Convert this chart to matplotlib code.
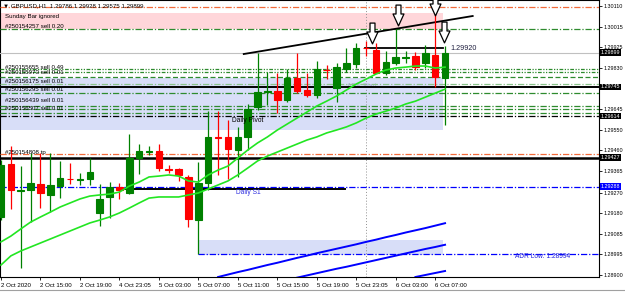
import matplotlib
matplotlib.use("Agg")
from matplotlib import pyplot as plt
from matplotlib.path import Path
from matplotlib.patches import Rectangle
import matplotlib.transforms as mtransforms
import numpy as np

plt.rcParams['font.family'] = ['Liberation Sans', 'DejaVu Sans']

# hourly candles, GBPUSD H1 (2 Oct 11:00 .. 6 Oct 08:00)
opens = [1.29160, 1.29398, 1.29277, 1.29281, 1.29308, 1.29259, 1.29299, 1.29333, 1.29328, 1.29331,
         1.29178, 1.29250, 1.29295, 1.29268, 1.29425, 1.29454, 1.29457, 1.29376, 1.29376, 1.29340,
         1.29146, 1.29313, 1.29520, 1.29520, 1.29461, 1.29520, 1.29654, 1.29724, 1.29726, 1.29686,
         1.29785, 1.29731, 1.29708, 1.29823, 1.29740, 1.29825, 1.29848, 1.29920, 1.29911, 1.29807,
         1.29852, 1.29877, 1.29884, 1.29852, 1.29888, 1.29786]
highs = [1.29416, 1.29479, 1.29389, 1.29448, 1.29448, 1.29448, 1.29412, 1.29403, 1.29358, 1.29425,
         1.29308, 1.29317, 1.29313, 1.29533, 1.29488, 1.29479, 1.29488, 1.29394, 1.29380, 1.29349,
         1.29407, 1.29636, 1.29636, 1.29596, 1.29565, 1.29668, 1.29897, 1.29812, 1.29807, 1.29825,
         1.29897, 1.29807, 1.29861, 1.29843, 1.29852, 1.29920, 1.29942, 1.29951, 1.29942, 1.29906,
         1.30005, 1.29906, 1.29902, 1.29933, 1.30100, 1.29928]
lows = [1.29146, 1.29196, 1.28931, 1.29137, 1.29200, 1.29182, 1.29245, 1.29308, 1.29304, 1.29304,
        1.29119, 1.29155, 1.29241, 1.29263, 1.29353, 1.29439, 1.29367, 1.29358, 1.29322, 1.29115,
        1.28994, 1.29281, 1.29349, 1.29331, 1.29340, 1.29461, 1.29641, 1.29663, 1.29627, 1.29677,
        1.29717, 1.29699, 1.29695, 1.29780, 1.29677, 1.29812, 1.29830, 1.29884, 1.29807, 1.29798,
        1.29843, 1.29852, 1.29821, 1.29830, 1.29744, 1.29575]
closes = [1.29394, 1.29281, 1.29281, 1.29313, 1.29268, 1.29304, 1.29335, 1.29331, 1.29331, 1.29362,
          1.29241, 1.29295, 1.29281, 1.29425, 1.29457, 1.29457, 1.29380, 1.29373, 1.29349, 1.29151,
          1.29313, 1.29520, 1.29517, 1.29466, 1.29520, 1.29645, 1.29722, 1.29726, 1.29686, 1.29785,
          1.29726, 1.29708, 1.29825, 1.29821, 1.29834, 1.29852, 1.29920, 1.29918, 1.29807, 1.29857,
          1.29879, 1.29879, 1.29834, 1.29897, 1.29789, 1.29899]

ma_fast = [1.29048, 1.29074, 1.29106, 1.29137, 1.29160, 1.29182, 1.29205, 1.29223, 1.29241, 1.29254,
           1.29259, 1.29263, 1.29272, 1.29299, 1.29317, 1.29340, 1.29344, 1.29349, 1.29344, 1.29322,
           1.29317, 1.29349, 1.29371, 1.29389, 1.29425, 1.29461, 1.29493, 1.29520, 1.29551, 1.29578,
           1.29605, 1.29632, 1.29659, 1.29681, 1.29704, 1.29731, 1.29758, 1.29780, 1.29803, 1.29821,
           1.29830, 1.29834, 1.29839, 1.29839, 1.29830, 1.29834]
ma_slow = [1.28944, 1.28985, 1.29007, 1.29025, 1.29043, 1.29061, 1.29079, 1.29097, 1.29115, 1.29133,
           1.29146, 1.29160, 1.29178, 1.29200, 1.29223, 1.29245, 1.29250, 1.29250, 1.29250, 1.29259,
           1.29268, 1.29286, 1.29304, 1.29322, 1.29349, 1.29380, 1.29412, 1.29434, 1.29452, 1.29470,
           1.29488, 1.29506, 1.29520, 1.29538, 1.29551, 1.29565, 1.29583, 1.29605, 1.29623, 1.29636,
           1.29650, 1.29668, 1.29681, 1.29699, 1.29717, 1.29735]

# blue channel lines (start bar, values)
band_a_start = 22
band_a = [1.28890, 1.28901, 1.28912, 1.28922, 1.28933, 1.28944, 1.28954, 1.28965, 1.28976, 1.28986,
          1.28997, 1.29007, 1.29017, 1.29027, 1.29037, 1.29048, 1.29058, 1.29069, 1.29079, 1.29090,
          1.29100, 1.29110, 1.29121, 1.29132]
band_b_start = 30
band_b = [1.28887, 1.28897, 1.28907, 1.28917, 1.28927, 1.28936, 1.28946, 1.28956, 1.28966, 1.28976,
          1.28986, 1.28996, 1.29006, 1.29016, 1.29025, 1.29035]
band_c_start = 42
band_c = [1.28890, 1.28899, 1.28908, 1.28917]

time_ticks = [0, 4, 8, 12, 16, 20, 24, 28, 32, 36, 40, 44]
time_labels = ['2 Oct 2020', '2 Oct 15:00', '2 Oct 19:00', '4 Oct 23:05', '5 Oct 03:00', '5 Oct 07:00',
               '5 Oct 11:00', '5 Oct 15:00', '5 Oct 19:00', '5 Oct 23:05', '6 Oct 03:00', '6 Oct 07:00']
price_ticks = [1.30110, 1.30015, 1.29925, 1.29830, 1.29645, 1.29550, 1.29460, 1.29365,
               1.29270, 1.29180, 1.29085, 1.28995, 1.28900]

# horizontal objects: price, colour, dashes (None = solid), width
levels = [
    (1.30104, '#F26B3A', (5, 1.5, 1, 1.5), 0.9),
    (1.30005, '#2E8B2E', (5, 1.5, 1, 1.5), 0.9),
    (1.29899, '#C0C0C0', None, 0.8),
    (1.29825, '#2E8B2E', (3, 1.2, 1, 1.2, 1, 1.2), 0.9),
    (1.29812, '#2E8B2E', (3, 1.2, 1, 1.2, 1, 1.2), 0.9),
    (1.29789, '#2E8B2E', (4, 2), 0.9),
    (1.29758, '#8CC48C', (5, 1.5, 1, 1.5), 0.9),
    (1.29745, '#000000', None, 1.4),
    (1.29717, '#2E8B2E', (5, 1.5, 1, 1.5), 0.9),
    (1.29659, '#2E8B2E', (5, 1.5, 1, 1.5), 0.9),
    (1.29645, '#2E8B2E', (5, 1.5, 1, 1.5), 0.9),
    (1.29627, '#2E8B2E', (5, 1.5, 1, 1.5), 0.9),
    (1.29614, '#000000', (5, 1.5, 1, 1.5), 0.9),
    (1.29443, '#F26B3A', (5, 1.5, 1, 1.5), 0.9),
    (1.29427, '#000000', None, 1.8),
    (1.29297, '#0000FF', (5, 1.5, 1, 1.5), 0.9),
]

# price boxes on the right scale: position, text, colour
boxes = [(1.29899, '1.29899', 'black'), (1.29745, '1.29745', 'black'), (1.29614, '1.29614', 'black'),
         (1.29427, '1.29427', 'black'), (1.29297, '1.29288', '#0000FF')]

order_labels = [(1.30064, 'Sunday Bar ignored'), (1.30019, '#250154257 sell 0.20'),
                (1.29834, '#250155655 sell 0.49'), (1.29812, '#250155973 sell 0.01'),
                (1.29771, '#250156175 sell 0.01'), (1.29733, '#250156295 sell 0.01'),
                (1.29686, '#250156439 sell 0.01'), (1.29650, '#250156507 sell 0.01'),
                (1.29452, '#250154808 tp')]

# arrow marks: bar, centre price
arrows = [(37.6, 1.29989), (40.2, 1.30068), (44.0, 1.30115), (44.9, 1.29992)]

fs = 4.4
fig = plt.figure(figsize=(6.25, 2.92), dpi=100)
ax = fig.add_axes([0, 15 / 292, 599 / 625, 277 / 292])
ax.set_xlim(-0.1, 60.6)
ax.set_ylim(1.28890, 1.30136)

zone_end = 44.8
# zones
ax.add_patch(Rectangle((-0.1, 1.30005), zone_end + 0.1, 1.30077 - 1.30005, facecolor='#FFD6DA', edgecolor='none', zorder=0))
ax.add_patch(Rectangle((-0.1, 1.29551), zone_end + 0.1, 1.29785 - 1.29551, facecolor='#D8DEF8', edgecolor='none', zorder=0))
ax.add_patch(Rectangle((19.95, 1.28989), zone_end - 19.95, 1.29056 - 1.28989, facecolor='#D8DEF8', edgecolor='none', zorder=0))

for price, col, dash, lw in levels:
    ln, = ax.plot([-0.1, 60.6], [price, price], color=col, lw=lw, zorder=3)
    if dash is not None:
        ln.set_dashes(dash)

ax.axvline(37.0, color='#909090', lw=0.7, ls=(0, (1, 2)), zorder=1)

# daily S1 segment, ADR low, trend line, 1.29920 level
ax.plot([12.4, 34.9], [1.29284, 1.29284], color='black', lw=1.4, zorder=3)
adr, = ax.plot([19.95, 60.6], [1.28994, 1.28994], color='#0000FF', lw=0.9, zorder=3)
adr.set_dashes((5, 1.5, 1, 1.5))
ax.plot([24.6, 47.8], [1.29893, 1.30064], color='black', lw=1.3, zorder=4)
ax.plot([36.9, 44.8], [1.29920, 1.29920], color='black', lw=1.3, zorder=4)

# candles
x = np.arange(len(opens))
o = np.array(opens)
c = np.array(closes)
cols = np.where(c >= o, '#008000', '#FF0000')
ax.vlines(x, lows, highs, colors=cols, lw=0.9, zorder=5)
ax.bar(x, np.abs(c - o), bottom=np.minimum(o, c), width=0.66, color=cols, edgecolor=cols, lw=0.8, zorder=5)

# moving averages and blue channel
ax.plot(x, ma_fast, color='#22E622', lw=1.2, zorder=6)
ax.plot(x, ma_slow, color='#22E622', lw=1.2, zorder=6)
ax.plot(np.arange(band_a_start, band_a_start + len(band_a)), band_a, color='#0000FF', lw=1.4, zorder=6)
ax.plot(np.arange(band_b_start, band_b_start + len(band_b)), band_b, color='#0000FF', lw=1.4, zorder=6)
ax.plot(np.arange(band_c_start, band_c_start + len(band_c)), band_c, color='#0000FF', lw=1.4, zorder=6)

# hollow down arrows
av = np.array([[-2.5, 10.5], [2.5, 10.5], [2.5, 1.5], [5.5, 1.5], [0, -10.5],
               [-5.5, 1.5], [-2.5, 1.5], [-2.5, 10.5]])
arrow_marker = Path(av, [Path.MOVETO] + [Path.LINETO] * 6 + [Path.CLOSEPOLY])
for bx, by in arrows:
    ax.plot(bx, by, marker=arrow_marker, ms=15, mfc='white', mec='black', mew=0.9, ls='none', zorder=8)

# texts
ax.text(0.2, 1.30109, '\u25bc GBPUSD,H1  1.29786 1.29928 1.29575 1.29899', fontsize=fs, va='center', ha='left', zorder=9)
for py, s in order_labels:
    ax.text(0.4, py, s, fontsize=fs, va='center', ha='left', zorder=9)
ax.text(23.4, 1.29596, 'Daily Pivot', fontsize=fs + 0.4, va='center', ha='left', zorder=9)
ax.text(23.8, 1.29268, 'Daily S1', fontsize=fs + 0.4, va='center', ha='left', color='#3030E0', zorder=9)
ax.text(35.1, 1.29749, 'ADR Start', fontsize=fs + 0.4, va='center', ha='left', color='#A0AACC', zorder=2)
ax.text(52.1, 1.28980, 'ADR Low: 1.28994', fontsize=fs + 0.4, va='center', ha='left', color='#2020E0', zorder=9)
ax.text(45.5, 1.29920, '1.29920', fontsize=fs + 0.8, va='center', ha='left', color='#202040', zorder=9)

# axes
ax.yaxis.tick_right()
ax.set_yticks(price_ticks)
ax.set_yticklabels(['%.5f' % p for p in price_ticks])
ax.set_xticks(time_ticks)
ax.set_xticklabels(time_labels, ha='left')
ax.tick_params(axis='x', labelsize=fs, length=2.5, width=0.6, pad=1.5, colors='black')
ax.tick_params(axis='y', labelsize=3.9, length=2, width=0.6, pad=1, colors='black')
for sp in ax.spines.values():
    sp.set_linewidth(0.8)
    sp.set_color('black')

trans = mtransforms.blended_transform_factory(ax.transAxes, ax.transData)
for py, s, col in boxes:
    ax.text(1.003, py, s, transform=trans, fontsize=3.9, color='white', va='center', ha='left',
            bbox=dict(facecolor=col, edgecolor='none', pad=0.6), zorder=10, clip_on=False)

fig.add_artist(plt.Line2D([0, 1], [2.5 / 292, 2.5 / 292], color='#A0A0A0', lw=0.8))

fig.savefig('out.png', dpi=100)
